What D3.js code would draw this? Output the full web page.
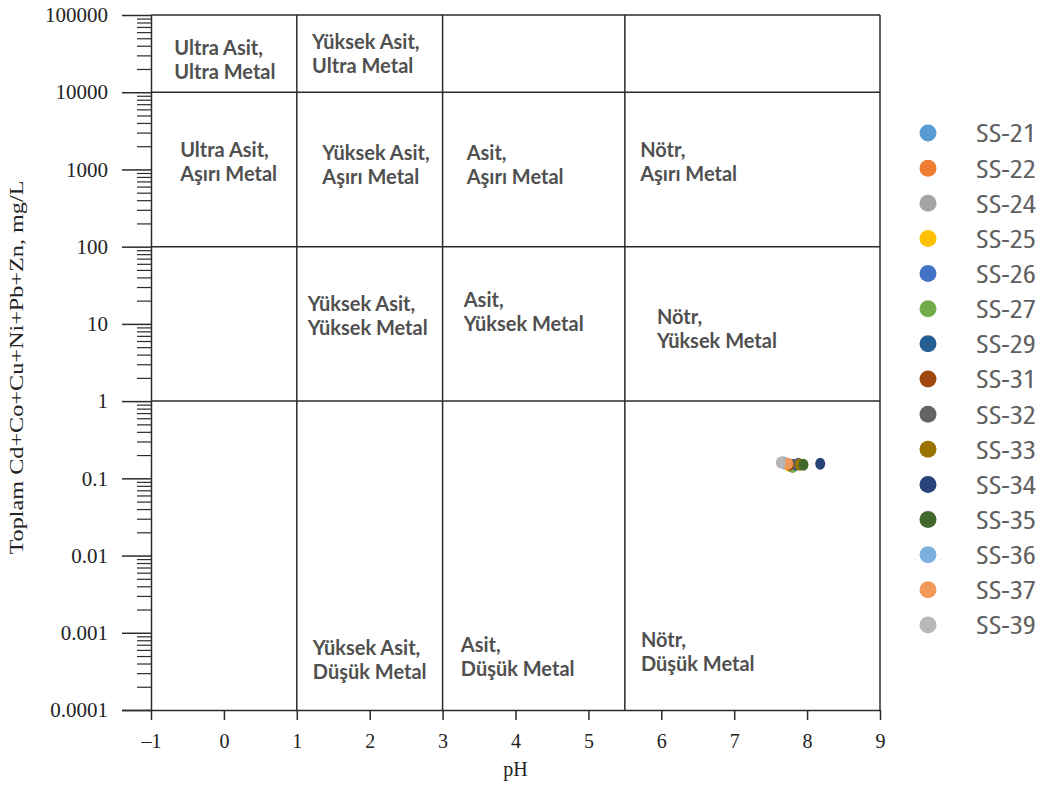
<!DOCTYPE html>
<html>
<head>
<meta charset="utf-8">
<script src="https://cdn.jsdelivr.net/npm/d3@7"></script>
<style>
  html, body { margin: 0; padding: 0; background: #fff; }
  svg { display: block; }
</style>
</head>
<body>
<svg id="chart" width="1040" height="785"></svg>
<script>
// Sample identifiers, their pH and total metal content (mg/L)
const samples = ["SS-21","SS-22","SS-24","SS-25","SS-26","SS-27","SS-29","SS-31","SS-32","SS-33","SS-34","SS-35","SS-36","SS-37","SS-39"];
const phValues = [7.70, 7.78, 7.68, 7.75, 7.82, 7.80, 7.85, 7.76, 7.88, 7.90, 8.18, 7.95, 7.66, 7.74, 7.64];
const metalValues = [0.155, 0.150, 0.160, 0.145, 0.150, 0.140, 0.150, 0.150, 0.155, 0.150, 0.155, 0.150, 0.160, 0.155, 0.160];
const sampleColors = ["#5B9BD5","#ED7D31","#A5A5A5","#FFC000","#4472C4","#70AD47","#255E91","#9E480E","#636363","#997300","#264478","#43682B","#7CAFDD","#F1975A","#B7B7B7"];

// Axis ticks
const phTicks = [-1, 0, 1, 2, 3, 4, 5, 6, 7, 8, 9];
const metalTicks = [0.0001, 0.001, 0.01, 0.1, 1, 10, 100, 1000, 10000, 100000];
const metalTickLabels = ["0.0001", "0.001", "0.01", "0.1", "1", "10", "100", "1000", "10000", "100000"];

// Ficklin-type classification boundaries
const phBoundaries = [1, 3, 5.5];
const metalBoundaries = [1, 100, 10000];

// Zone annotations (anchor in pH / mg/L)
const zoneLine1 = ["Ultra Asit,", "Yüksek Asit,", "Ultra Asit,", "Yüksek Asit,", "Asit,", "Nötr,", "Yüksek Asit,", "Asit,", "Nötr,", "Yüksek Asit,", "Asit,", "Nötr,"];
const zoneLine2 = ["Ultra Metal", "Ultra Metal", "Aşırı Metal", "Aşırı Metal", "Aşırı Metal", "Aşırı Metal", "Yüksek Metal", "Yüksek Metal", "Yüksek Metal", "Düşük Metal", "Düşük Metal", "Düşük Metal"];
const zonePh = [-0.68, 1.21, -0.60, 1.35, 3.33, 5.71, 1.15, 3.29, 5.94, 1.22, 3.25, 5.72];
const zoneMetal = [37400, 44700, 1790, 1630, 1630, 1790, 18.1, 20.4, 12.3, 0.000636, 0.000695, 0.000805];

const svg = d3.select("#chart");
const plotLeft = 151, plotRight = 880, plotTop = 15, plotBottom = 710;

const x = d3.scaleLinear().domain([-1, 9]).range([plotLeft, plotRight]);
const y = d3.scaleLog().domain([0.0001, 100000]).range([plotBottom, plotTop]);

const lineColor = "#2b2b2b";
const serif = "'Liberation Serif', 'Times New Roman', serif";

// Zone boundaries and frame
const g = svg.append("g");
g.selectAll("line.vb").data(phBoundaries.concat([9])).join("line")
  .attr("x1", d => x(d)).attr("x2", d => x(d))
  .attr("y1", y(100000)).attr("y2", y(0.0001))
  .attr("stroke", lineColor).attr("stroke-width", 1.5);
g.selectAll("line.hb").data(metalBoundaries.concat([100000])).join("line")
  .attr("x1", x(-1)).attr("x2", x(9))
  .attr("y1", d => y(d)).attr("y2", d => y(d))
  .attr("stroke", lineColor).attr("stroke-width", 1.5);

// X axis
const xAxis = d3.axisBottom(x).tickValues(phTicks)
  .tickFormat(d => d < 0 ? "\u2013" + Math.abs(d) : d)
  .tickSize(10).tickPadding(14);
const gx = svg.append("g").attr("transform", `translate(0,${plotBottom})`).call(xAxis);
gx.select(".domain").attr("stroke", lineColor).attr("stroke-width", 1.5)
  .attr("d", `M${plotLeft - 29},0.5H${plotRight}`);
gx.selectAll(".tick line").attr("stroke", lineColor).attr("stroke-width", 1.5);
gx.selectAll(".tick text").attr("font-family", serif).attr("font-size", 20).attr("fill", "#222");

// Y axis: major ticks outward, minor ticks on the same side
const yAxis = d3.axisLeft(y).tickValues(metalTicks)
  .tickFormat((d, i) => metalTickLabels[i])
  .tickSize(29).tickPadding(13);
const gy = svg.append("g").attr("transform", `translate(${plotLeft},0)`).call(yAxis);
gy.select(".domain").attr("stroke", lineColor).attr("stroke-width", 1.5)
  .attr("d", `M0.5,${plotTop}V${plotBottom}`);
gy.selectAll(".tick line").attr("stroke", lineColor).attr("stroke-width", 1.5).attr("x2", -29);
gy.selectAll(".tick text").attr("x", -43).attr("text-anchor", "end")
  .attr("font-family", serif).attr("font-size", 21).attr("fill", "#222");

const minorTicks = [];
for (let e = -4; e < 5; e++) {
  for (let k = 2; k <= 9; k++) minorTicks.push(k * Math.pow(10, e));
}
const yMinor = d3.axisLeft(y).tickValues(minorTicks).tickSize(14).tickFormat("");
const gym = svg.append("g").attr("transform", `translate(${plotLeft},0)`).call(yMinor);
gym.select(".domain").remove();
gym.selectAll(".tick text").remove();
gym.selectAll(".tick line").attr("stroke", lineColor).attr("stroke-width", 1.2);

// Axis titles
svg.append("text")
  .attr("x", (plotLeft + plotRight) / 2).attr("y", 776)
  .attr("text-anchor", "middle")
  .attr("font-family", serif).attr("font-size", 20).attr("fill", "#222")
  .text("pH");

svg.append("text")
  .attr("transform", `translate(23,${(plotTop + plotBottom) / 2 + 5}) rotate(-90)`)
  .attr("text-anchor", "middle")
  .attr("font-family", serif).attr("font-size", 19).attr("fill", "#222")
  .attr("textLength", 374).attr("lengthAdjust", "spacingAndGlyphs")
  .text("Toplam Cd+Co+Cu+Ni+Pb+Zn, mg/L");

// Zone labels
const zoneFont = "Lato, 'Open Sans', sans-serif";
const zones = zoneLine1.map((t, i) => ({ t1: t, t2: zoneLine2[i], ph: zonePh[i], m: zoneMetal[i] }));
const zg = svg.append("g").selectAll("text").data(zones).join("text")
  .attr("font-family", zoneFont).attr("font-weight", 700).attr("font-size", 20)
  .attr("fill", "#505050");
zg.append("tspan").attr("x", d => x(d.ph)).attr("y", d => y(d.m) + 7).text(d => d.t1);
zg.append("tspan").attr("x", d => x(d.ph)).attr("dy", 24).text(d => d.t2);

// Sample points
const pts = samples.map((s, i) => ({ s, ph: phValues[i], m: metalValues[i], c: sampleColors[i] }));
svg.append("g").selectAll("ellipse").data(pts).join("ellipse")
  .attr("cx", d => x(d.ph)).attr("cy", d => y(d.m))
  .attr("rx", 5).attr("ry", 6)
  .attr("fill", d => d.c);

// Legend
const ly = d3.scalePoint().domain(samples).range([133, 625]);
const lg = svg.append("g").selectAll("g").data(pts).join("g")
  .attr("transform", d => `translate(928,${ly(d.s)})`);
lg.append("circle").attr("r", 8.5).attr("fill", d => d.c);
lg.append("text")
  .attr("x", 48).attr("dy", "0.36em")
  .attr("font-family", "'Open Sans', Lato, sans-serif")
  .attr("font-stretch", "condensed")
  .attr("font-size", 26).attr("fill", "#606060")
  .attr("textLength", 60).attr("lengthAdjust", "spacingAndGlyphs")
  .text(d => d.s);
</script>
</body>
</html>
